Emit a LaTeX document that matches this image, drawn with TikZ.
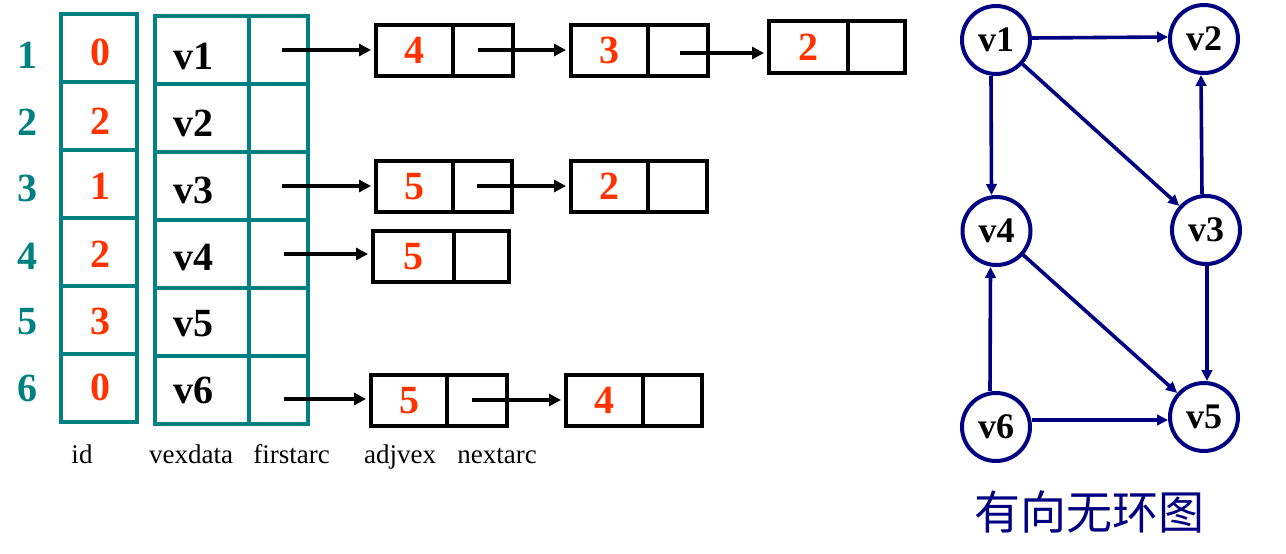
\documentclass[tikz,border=0pt]{standalone}
\usepackage{fontspec}
\setmainfont{Liberation Serif}
\newfontfamily\cjkfont{Noto Sans CJK SC}
\usetikzlibrary{arrows.meta}
\definecolor{tealc}{RGB}{0,128,128}
\definecolor{redc}{RGB}{255,51,0}
\definecolor{navyc}{RGB}{0,0,128}
\begin{document}
\begin{tikzpicture}[x=1pt,y=-1pt,
  tcell/.style={draw=tealc,line width=4pt,inner sep=0pt,outer sep=0pt,minimum height=68pt},
  lcell/.style={draw=black,line width=4pt,inner sep=0pt,outer sep=0pt,minimum height=51pt},
  bignum/.style={font=\fontsize{40}{41}\selectfont\bfseries,inner sep=0pt},
  rowlab/.style={bignum,text=tealc},
  idval/.style={bignum,text=redc},
  vlab/.style={bignum,text=black},
  lval/.style={lcell,font=\fontsize{40}{41}\selectfont\bfseries,text=redc},
  collab/.style={font=\fontsize{27}{28}\selectfont,anchor=base,inner sep=0pt},
  ptr/.style={draw=black,line width=4.2pt,-{Triangle[length=12pt,width=12pt]},shorten >=5pt},
  gnode/.style={circle,draw=navyc,line width=4pt,minimum size=68pt,inner sep=0pt,font=\fontsize{36}{37}\selectfont\bfseries},
  garc/.style={draw=navyc,line width=3.6pt,-{Triangle[length=11pt,width=10.5pt]}}
]
\useasboundingbox (0,0) rectangle (1286,554);

% table cells
\foreach \i in {1,...,6}{
  \node[tcell,minimum width=75.5pt] (id\i) at (98.75,{48+68*(\i-1)}) {};
  \node[tcell,minimum width=93.5pt] (vx\i) at (201.75,{50+68*(\i-1)}) {};
  \node[tcell,minimum width=59pt] (fa\i) at (278,{50+68*(\i-1)}) {};
}
% table texts
\foreach \i/\yr/\yi/\yv/\val in {1/55/52/56/0, 2/122/121/123/2, 3/188/186/190/1, 4/256/254/258/2, 5/322/321/324/3, 6/388/387/390/0}{
  \node[rowlab] (rl\i) at (27,\yr) {\i};
  \node[idval] (iv\i) at (100,\yi) {\val};
  \node[vlab] (vl\i) at (193,\yv) {v\i};
}

% column labels
\node[collab] (cid) at (82,463) {id};
\node[collab] (cvex) at (191,463) {vexdata};
\node[collab] (cfirst) at (291.5,463) {firstarc};
\node[collab] (cadj) at (400,463) {adjvex};
\node[collab] (cnext) at (497,463) {nextarc};

% list boxes
\node[lval,minimum width=77pt] (a11) at (414.5,50.5) {4};
\node[lcell,minimum width=60pt,anchor=west] (n11) at (a11.east) {};
\node[lval,minimum width=77pt] (a12) at (609.5,50.5) {3};
\node[lcell,minimum width=60pt,anchor=west] (n12) at (a12.east) {};
\node[lval,minimum width=79pt,minimum height=52pt] (a13) at (808.5,47) {2};
\node[lcell,minimum width=57pt,minimum height=52pt,anchor=west] (n13) at (a13.east) {};

\node[lval,minimum width=77pt] (a31) at (414.5,186.5) {5};
\node[lcell,minimum width=59pt,anchor=west] (n31) at (a31.east) {};
\node[lval,minimum width=77pt] (a32) at (609.5,186.5) {2};
\node[lcell,minimum width=59pt,anchor=west] (n32) at (a32.east) {};

\node[lval,minimum width=81pt] (a41) at (413.5,256.5) {5};
\node[lcell,minimum width=55pt,anchor=west] (n41) at (a41.east) {};

\node[lval,minimum width=76pt] (a61) at (409,400.5) {5};
\node[lcell,minimum width=60pt,anchor=west] (n61) at (a61.east) {};
\node[lval,minimum width=77pt] (a62) at (604.5,400.5) {4};
\node[lcell,minimum width=59pt,anchor=west] (n62) at (a62.east) {};

% pointers
\coordinate (s11) at (282,50);
\coordinate (s12) at (478,50);
\coordinate (s13) at (680,53);
\coordinate (s31) at (282,186);
\coordinate (s32) at (477,186);
\coordinate (s41) at (284,254);
\coordinate (s61) at (284,399);
\coordinate (s62) at (472,400);
\draw[ptr] (s11) -- (s11 -| a11.west);
\draw[ptr] (s12) -- (s12 -| a12.west);
\draw[ptr] (s13) -- (s13 -| a13.west);
\draw[ptr] (s31) -- (s31 -| a31.west);
\draw[ptr] (s32) -- (s32 -| a32.west);
\draw[ptr] (s41) -- (s41 -| a41.west);
\draw[ptr] (s61) -- (s61 -| a61.west);
\draw[ptr] (s62) -- (s62 -| a62.west);

% graph
\node[gnode] (g1) at (996,40) {v1};
\node[gnode] (g2) at (1204,39) {v2};
\node[gnode] (g3) at (1206,230) {v3};
\node[gnode] (g4) at (996.5,231) {v4};
\node[gnode] (g5) at (1204,417) {v5};
\node[gnode] (g6) at (996,427) {v6};

\draw[garc] ([yshift=2pt]g1.east) -- ([yshift=2pt]g2.west);
\draw[garc] ([xshift=-5pt]g1.south) -- ([xshift=-5pt]g4.north);
\draw[garc] (g1) -- (g3);
\draw[garc] ([xshift=-4pt]g3.north) -- ([xshift=-3pt]g2.south);
\draw[garc] ([xshift=1pt]g3.south) -- ([xshift=3pt]g5.north);
\draw[garc] (g4) -- (g5);
\draw[garc] ([xshift=-6pt]g6.north) -- ([xshift=-6pt]g4.south);
\draw[garc] ([yshift=7pt]g6.east) -- ([yshift=-3pt]g5.west);

\node[font=\cjkfont\fontsize{46}{48}\selectfont,text=navyc,inner sep=0pt] (title) at (1089,512) {有向无环图};
\end{tikzpicture}
\end{document}
